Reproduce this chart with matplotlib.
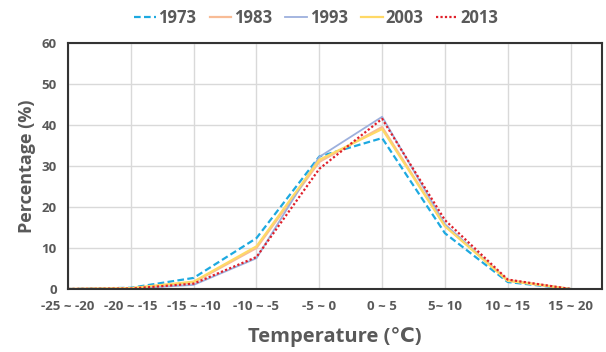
import matplotlib
matplotlib.use("Agg")
import matplotlib.pyplot as plt
import numpy as np

plt.rcParams['font.family'] = ['Open Sans', 'DejaVu Sans']

categories = ["-25 ~ -20", "-20 ~ -15", "-15 ~ -10", "-10 ~ -5", "-5 ~ 0",
              "0 ~ 5", "5~ 10", "10 ~ 15", "15 ~ 20"]
years = ["1973", "1983", "1993", "2003", "2013"]
v1973 = [0, 0.3, 2.7, 12.4, 32.3, 36.8, 13.6, 1.7, 0]
v1983 = [0, 0.2, 1.6, 10.0, 31.0, 39.5, 15.4, 2.2, 0]
v1993 = [0, 0.1, 1.0, 7.5, 32.2, 42.0, 15.8, 2.0, 0]
v2003 = [0, 0.2, 1.8, 10.4, 31.5, 39.0, 15.3, 2.0, 0]
v2013 = [0, 0.1, 1.3, 7.8, 29.3, 41.5, 16.8, 2.3, 0]
series = [v1973, v1983, v1993, v2003, v2013]
colors = ["#1DA9E0", "#F8BC96", "#9DB0DD", "#FFD966", "#E0202A"]
styles = [(0, (3, 1.5)), "-", "-", "-", (0, (1, 1))]
widths = [1.6, 1.6, 1.3, 1.6, 1.6]

fig = plt.figure(figsize=(6.06, 3.52), dpi=100)
ax = fig.add_axes([0.1122, 0.179, 0.8812, 0.699])
x = np.arange(len(categories))
for yr, v, c, ls, lw in zip(years, series, colors, styles, widths):
    ax.plot(x, v, color=c, linestyle=ls, linewidth=lw, label=yr)

ax.set_xlim(0, 8.5)
ax.set_ylim(0, 60)
ax.set_yticks(range(0, 61, 10))
ax.set_xticks(x)
ax.set_xticklabels(categories)
ax.grid(True, color="#D9D9D9", linewidth=1)
ax.set_axisbelow(True)
for s in ax.spines.values():
    s.set_color("#333333")
    s.set_linewidth(1.5)
ax.tick_params(length=0, pad=8, labelcolor="#595959")
for lab in ax.get_xticklabels() + ax.get_yticklabels():
    lab.set_fontweight("bold")
    lab.set_fontsize(9.5)
ax.set_ylabel("Percentage (%)", fontsize=13, fontweight="bold", color="#595959", labelpad=4)
ax.set_xlabel("Temperature (℃)", fontsize=14.5, fontweight="bold", color="#595959", labelpad=10)

leg = fig.legend(loc="center", bbox_to_anchor=(0.522, 0.95), ncol=5, frameon=False,
                 handlelength=1.3, handletextpad=0.15, columnspacing=0.8,
                 prop={"weight": "bold", "size": 12})
for t in leg.get_texts():
    t.set_color("#595959")

fig.savefig("out.png", dpi=100)
